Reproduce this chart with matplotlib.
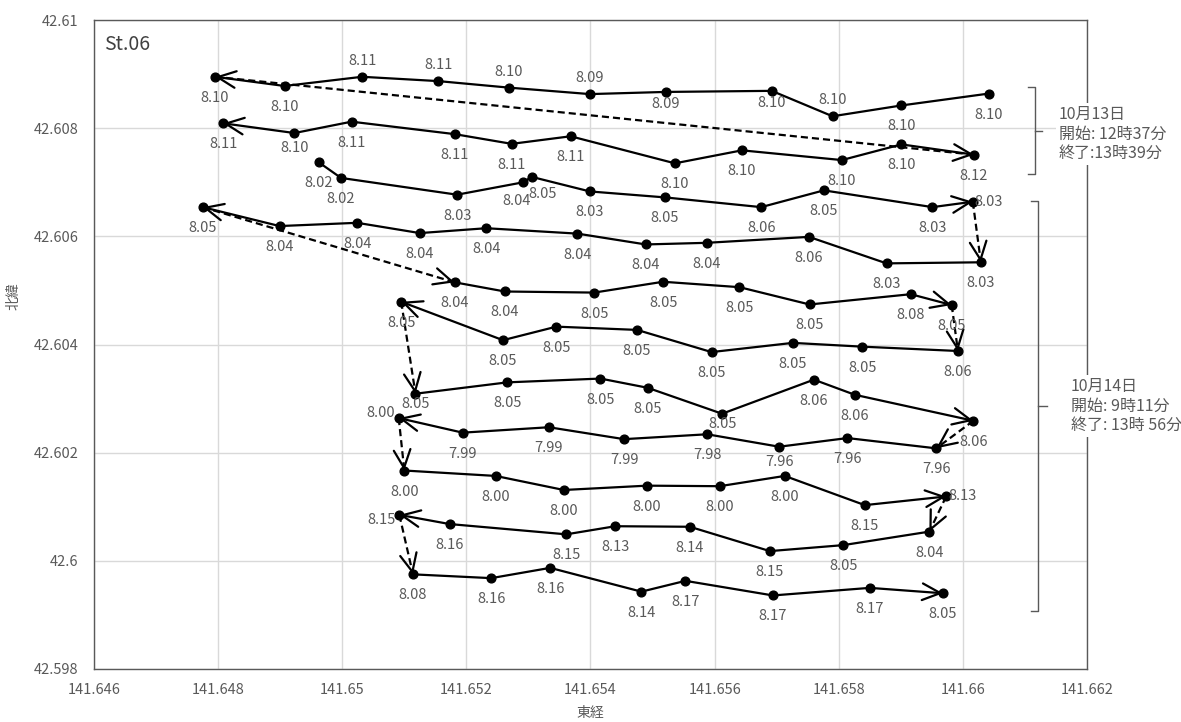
import matplotlib
matplotlib.use("Agg")
import matplotlib.pyplot as plt
from matplotlib.lines import Line2D

plt.rcParams['font.family'] = ['Noto Sans CJK JP', 'DejaVu Sans']

# ---------------- data ----------------
row01_lon = [141.66042, 141.65901, 141.65790, 141.65692, 141.65521, 141.65399, 141.65268, 141.65155, 141.65032, 141.64907, 141.64795]
row01_lat = [42.60864, 42.60842, 42.60822, 42.60869, 42.60867, 42.60863, 42.60875, 42.60887, 42.60895, 42.60878, 42.60895]
row01_val = [8.10, 8.10, 8.10, 8.10, 8.09, 8.09, 8.10, 8.11, 8.11, 8.10, 8.10]

row02_lon = [141.66018, 141.65901, 141.65805, 141.65644, 141.65536, 141.65368, 141.65273, 141.65181, 141.65015, 141.64923, 141.64808]
row02_lat = [42.60751, 42.60770, 42.60741, 42.60759, 42.60735, 42.60785, 42.60771, 42.60789, 42.60812, 42.60791, 42.60809]
row02_val = [8.12, 8.10, 8.10, 8.10, 8.10, 8.11, 8.11, 8.11, 8.11, 8.10, 8.11]

row03_lon = [141.64962, 141.64998, 141.65185, 141.65292, 141.65305, 141.65399, 141.65520, 141.65675, 141.65776, 141.65951, 141.66016]
row03_lat = [42.60737, 42.60708, 42.60677, 42.60700, 42.60710, 42.60683, 42.60672, 42.60654, 42.60685, 42.60654, 42.60664]
row03_val = [8.02, 8.02, 8.03, 8.04, 8.05, 8.03, 8.05, 8.06, 8.05, 8.03, 8.03]

row04_lon = [141.66029, 141.65877, 141.65752, 141.65587, 141.65489, 141.65379, 141.65232, 141.65125, 141.65024, 141.64899, 141.64775]
row04_lat = [42.60552, 42.60550, 42.60599, 42.60588, 42.60585, 42.60605, 42.60615, 42.60606, 42.60625, 42.60619, 42.60654]
row04_val = [8.03, 8.03, 8.06, 8.04, 8.04, 8.04, 8.04, 8.04, 8.04, 8.04, 8.05]

row05_lon = [141.65181, 141.65262, 141.65406, 141.65517, 141.65640, 141.65753, 141.65916, 141.65982]
row05_lat = [42.60515, 42.60498, 42.60496, 42.60516, 42.60506, 42.60474, 42.60493, 42.60473]
row05_val = [8.04, 8.04, 8.05, 8.05, 8.05, 8.05, 8.08, 8.05]

row06_lon = [141.65992, 141.65838, 141.65726, 141.65595, 141.65475, 141.65345, 141.65259, 141.65095]
row06_lat = [42.60388, 42.60396, 42.60403, 42.60386, 42.60427, 42.60433, 42.60408, 42.60479]
row06_val = [8.06, 8.05, 8.05, 8.05, 8.05, 8.05, 8.05, 8.05]

row07_lon = [141.65118, 141.65266, 141.65416, 141.65492, 141.65612, 141.65760, 141.65826, 141.66017]
row07_lat = [42.60309, 42.60330, 42.60337, 42.60320, 42.60272, 42.60335, 42.60307, 42.60259]
row07_val = [8.05, 8.05, 8.05, 8.05, 8.05, 8.06, 8.06, 8.06]

row08_lon = [141.65957, 141.65814, 141.65704, 141.65588, 141.65454, 141.65333, 141.65194, 141.65091]
row08_lat = [42.60208, 42.60227, 42.60211, 42.60234, 42.60225, 42.60247, 42.60237, 42.60264]
row08_val = [7.96, 7.96, 7.96, 7.98, 7.99, 7.99, 7.99, 8.00]

row09_lon = [141.65100, 141.65247, 141.65357, 141.65491, 141.65608, 141.65713, 141.65842, 141.65973]
row09_lat = [42.60167, 42.60157, 42.60131, 42.60139, 42.60138, 42.60157, 42.60103, 42.60119]
row09_val = [8.00, 8.00, 8.00, 8.00, 8.00, 8.00, 8.15, 8.13]

row10_lon = [141.65946, 141.65807, 141.65689, 141.65560, 141.65440, 141.65361, 141.65173, 141.65092]
row10_lat = [42.60054, 42.60029, 42.60018, 42.60063, 42.60064, 42.60049, 42.60068, 42.60085]
row10_val = [8.04, 8.05, 8.15, 8.14, 8.13, 8.15, 8.16, 8.15]

row11_lon = [141.65114, 141.65240, 141.65335, 141.65482, 141.65553, 141.65694, 141.65850, 141.65968]
row11_lat = [42.59975, 42.59968, 42.59987, 42.59943, 42.59963, 42.59936, 42.59950, 42.59940]
row11_val = [8.08, 8.16, 8.16, 8.14, 8.17, 8.17, 8.17, 8.05]

xtick_values = [141.646, 141.648, 141.650, 141.652, 141.654, 141.656, 141.658, 141.660, 141.662]
xtick_labels = ["141.646", "141.648", "141.65", "141.652", "141.654", "141.656", "141.658", "141.66", "141.662"]
ytick_values = [42.598, 42.600, 42.602, 42.604, 42.606, 42.608, 42.610]
ytick_labels = ["42.598", "42.6", "42.602", "42.604", "42.606", "42.608", "42.61"]

station_label = "St.06"
x_title = "東経"
y_title = "北緯"
day1_text = "10月13日\n開始: 12時37分\n終了:13時39分"
day2_text = "10月14日\n開始: 9時11分\n終了: 13時 56分"

# ---------------- label placement (style) ----------------
row01_pos = ['b', 'b', 'a', 'b2', 'b2', 'a', 'a', 'a', 'a', 'b', 'b']
row02_pos = ['b'] * 9 + ['bm', 'b']
row03_pos = ['b', 'b', 'b', 'bl', 'br', 'b', 'b', 'b', 'b', 'b', 'r']
row04_pos = ['b'] * 11
row05_pos = ['b'] * 8
row06_pos = ['b'] * 8
row07_pos = ['bc', 'b', 'b', 'b', 'bc', 'b', 'b', 'b']
row08_pos = ['b', 'b', 'bm', 'b', 'b', 'b', 'b', 'lu']
row09_pos = ['b'] * 7 + ['r']
row10_pos = ['b'] * 7 + ['ld']
row11_pos = ['b'] * 8
OFFS = {'b': (0, 21), 'bm': (0, 15), 'b2': (0, 12), 'bc': (0, 10), 'a': (0, -16),
        'bl': (-7, 19), 'br': (11, 17), 'r': (16, 0), 'lu': (-18, -5), 'ld': (-18, 5)}

day1_rows = [(row01_lon, row01_lat, row01_val, row01_pos),
             (row02_lon, row02_lat, row02_val, row02_pos)]
day2_rows = [(row03_lon, row03_lat, row03_val, row03_pos),
             (row04_lon, row04_lat, row04_val, row04_pos),
             (row05_lon, row05_lat, row05_val, row05_pos),
             (row06_lon, row06_lat, row06_val, row06_pos),
             (row07_lon, row07_lat, row07_val, row07_pos),
             (row08_lon, row08_lat, row08_val, row08_pos),
             (row09_lon, row09_lat, row09_val, row09_pos),
             (row10_lon, row10_lat, row10_val, row10_pos),
             (row11_lon, row11_lat, row11_val, row11_pos)]

# ---------------- figure ----------------
W, H = 1181, 722
fig = plt.figure(figsize=(W / 100, H / 100), dpi=100)
fig.patch.set_facecolor('white')
L, R, T, B = 94, 1087, 20, 669
ax = fig.add_axes([L / W, 1 - B / H, (R - L) / W, (B - T) / H])
ax.set_xlim(141.646, 141.662)
ax.set_ylim(42.598, 42.610)
ax.set_xticks(xtick_values)
ax.set_xticklabels(xtick_labels)
ax.set_yticks(ytick_values)
ax.set_yticklabels(ytick_labels)
ax.tick_params(length=0, labelsize=10.5, labelcolor='#595959')
ax.tick_params(axis='x', pad=10)
ax.tick_params(axis='y', pad=11)
ax.grid(True, color='#d9d9d9', lw=1)
ax.set_axisbelow(True)
for s in ax.spines.values():
    s.set_color('#595959')
    s.set_linewidth(1)

ax.set_xlabel(x_title, fontsize=10, color='#595959')
ax.xaxis.set_label_coords(0.5, (B - 713) / (B - T))
ax.xaxis.label.set_va('center')
ax.set_ylabel(y_title, fontsize=10, color='#595959')
ax.yaxis.set_label_coords((14 - L) / (R - L), (B - 296) / (B - T))
ax.yaxis.label.set_va('center')

ax.text((104 - L) / (R - L), (B - 44) / (B - T), station_label,
        transform=ax.transAxes, fontsize=14, color='#404040', ha='left', va='center')

LW = 1.6
arrow_props = dict(arrowstyle='->,head_length=1.3,head_width=0.6', mutation_scale=10,
                   lw=LW, color='black', shrinkA=0, shrinkB=0)


def arrowhead(p_from, p_to):
    a = ax.transData.transform(p_from)
    b = ax.transData.transform(p_to)
    d = a - b
    n = (d[0] ** 2 + d[1] ** 2) ** 0.5
    tail = b + d / n * 3.0
    tail_data = ax.transData.inverted().transform(tail)
    ax.annotate('', xy=p_to, xytext=tuple(tail_data), arrowprops=arrow_props, zorder=4)


def draw_day(rows):
    prev_end = None
    for lon, lat, val, pos in rows:
        if prev_end is not None:
            ax.plot([prev_end[0], lon[0]], [prev_end[1], lat[0]], color='black', lw=LW,
                    linestyle=(0, (3.2, 1.8)), zorder=3)
            arrowhead(prev_end, (lon[0], lat[0]))
        ax.plot(lon, lat, color='black', lw=LW, marker='o', ms=6.3, zorder=3)
        arrowhead((lon[-2], lat[-2]), (lon[-1], lat[-1]))
        for x, y, v, p in zip(lon, lat, val, pos):
            dx, dy = OFFS[p]
            ax.annotate(f"{v:.2f}", xy=(x, y), xytext=(dx * 0.72, -dy * 0.72),
                        textcoords='offset points', ha='center', va='center',
                        fontsize=10.5, color='#595959', zorder=5)
        prev_end = (lon[-1], lat[-1])


draw_day(day1_rows)
draw_day(day2_rows)


def fx(px):
    return px / W


def fy(py):
    return 1 - py / H


def bracket(x, y0, y1, ym, tip, mid):
    c = '#595959'
    fig.add_artist(Line2D([fx(x - tip), fx(x), fx(x), fx(x - tip)],
                          [fy(y0), fy(y0), fy(y1), fy(y1)], color=c, lw=1))
    fig.add_artist(Line2D([fx(x), fx(x + mid)], [fy(ym), fy(ym)], color=c, lw=1))


bracket(1035, 87, 174, 131, 7, 7)
bracket(1038, 201, 611, 406, 7, 9)

fig.text(fx(1059), fy(134), day1_text, fontsize=11.5, color='#595959', ha='left', va='center',
         linespacing=1.2, bbox=dict(facecolor='white', edgecolor='none', pad=2), zorder=10)
fig.text(fx(1071), fy(406), day2_text, fontsize=11.5, color='#595959', ha='left', va='center',
         linespacing=1.2, bbox=dict(facecolor='white', edgecolor='none', pad=2), zorder=10)

fig.savefig('out.png', dpi=100, facecolor='white')
